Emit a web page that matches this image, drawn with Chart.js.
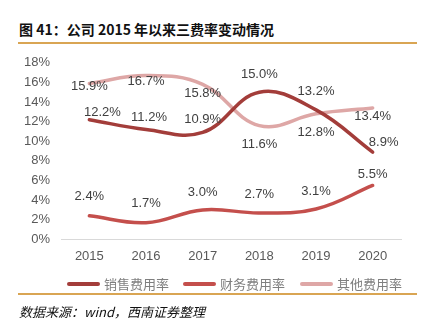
<!DOCTYPE html>
<html><head><meta charset="utf-8">
<script src="https://cdn.jsdelivr.net/npm/chart.js@4"></script>
<style>
html,body{margin:0;padding:0;background:#fff;width:424px;height:327px;overflow:hidden;}
#title{position:absolute;left:19px;top:19px;font-family:"Noto Sans CJK SC",sans-serif;font-weight:bold;font-size:14px;color:#111;white-space:nowrap;}
.rule{position:absolute;left:18px;width:399px;height:2px;background:#D9A553;}
#src{position:absolute;left:19px;top:302px;font-family:"Noto Sans CJK SC",sans-serif;font-style:italic;font-size:13px;color:#111;white-space:nowrap;}
#wrap{position:absolute;left:0;top:44px;width:424px;height:231px;}
#legend{position:absolute;top:275px;left:0;width:424px;height:18px;font-family:"Noto Sans CJK SC",sans-serif;font-size:13px;color:#7f7f7f;}
.li{position:absolute;top:0;height:18px;line-height:18px;white-space:nowrap;}
.sw{display:inline-block;width:33px;height:4px;border-radius:2px;vertical-align:middle;margin-right:4px;position:relative;top:-1px;}
</style></head><body>
<div id="title">图 41：公司 2015 年以来三费率变动情况</div>
<div class="rule" style="top:42px"></div>
<div id="wrap"><canvas id="c"></canvas></div>
<div id="legend"></div>
<div class="rule" style="top:293px"></div>
<div id="src">数据来源：wind，西南证券整理</div>
<script>
const categories = ['2015','2016','2017','2018','2019','2020'];
const salesRate = [12.2, 11.2, 10.9, 15.0, 13.2, 8.9];
const financeRate = [2.4, 1.7, 3.0, 2.7, 3.1, 5.5];
const otherRate = [15.9, 16.7, 15.8, 11.6, 12.8, 13.4];
const seriesNames = ['销售费用率','财务费用率','其他费用率'];

// label placement (style): [dx, dy] relative to point
const labelOffsets = [
  [[13,-7],[3,-12],[0,-13],[0,-18],[0,-18],[11,-10]],
  [[0,-19],[0,-19],[0,-18],[0,-18],[0,-18],[0,-11]],
  [[0,3],[0,6],[0,9],[0,19],[0,19],[0,8]]
];
const legendLeft = [67,183,300];

const labelPlugin = {
  id:'valLabels',
  afterDatasetsDraw(chart){
    const ctx = chart.ctx;
    ctx.save();
    ctx.font = '13px "Liberation Sans", Arial, sans-serif';
    ctx.fillStyle = '#404040';
    ctx.textAlign = 'center';
    ctx.textBaseline = 'middle';
    chart.data.datasets.forEach((ds, i) => {
      const meta = chart.getDatasetMeta(i);
      meta.data.forEach((pt, j) => {
        const o = labelOffsets[i][j];
        ctx.fillText(ds.data[j].toFixed(1) + '%', pt.x + o[0], pt.y + o[1]);
      });
    });
    ctx.restore();
  }
};

const colors = ['#A33D3A','#C44F4C','#DEA7A6'];
const chart = new Chart(document.getElementById('c'), {
  type:'line',
  data:{
    labels:categories,
    datasets:[salesRate, financeRate, otherRate].map((d,i)=>({
      label:seriesNames[i], data:d, borderColor:colors[i], backgroundColor:colors[i],
      borderWidth:3.5, tension:0.4, pointRadius:0, fill:false, borderCapStyle:'round'
    }))
  },
  options:{
    responsive:true, maintainAspectRatio:false, animation:false,
    layout:{padding:{left:13,right:23,top:9,bottom:2}},
    plugins:{ tooltip:{enabled:false}, legend:{display:false} },
    scales:{
      x:{
        offset:true,
        grid:{display:false, drawTicks:false},
        border:{display:true, color:'#D9D9D9', width:1},
        ticks:{color:'#595959', font:{family:'"Liberation Sans", Arial, sans-serif', size:13}, padding:9}
      },
      y:{
        min:0, max:18,
        grid:{display:false, drawTicks:false},
        border:{display:false},
        ticks:{stepSize:2, autoSkip:false, color:'#595959', padding:11,
          font:{family:'"Liberation Sans", Arial, sans-serif', size:13},
          callback:v=>v+'%'}
      }
    }
  },
  plugins:[labelPlugin]
});

const lg = document.getElementById('legend');
seriesNames.forEach((n,i)=>{
  const d = document.createElement('div');
  d.className='li'; d.style.left=legendLeft[i]+'px';
  const s = document.createElement('span'); s.className='sw'; s.style.background=colors[i];
  d.appendChild(s); d.appendChild(document.createTextNode(n));
  lg.appendChild(d);
});
</script>
</body></html>
